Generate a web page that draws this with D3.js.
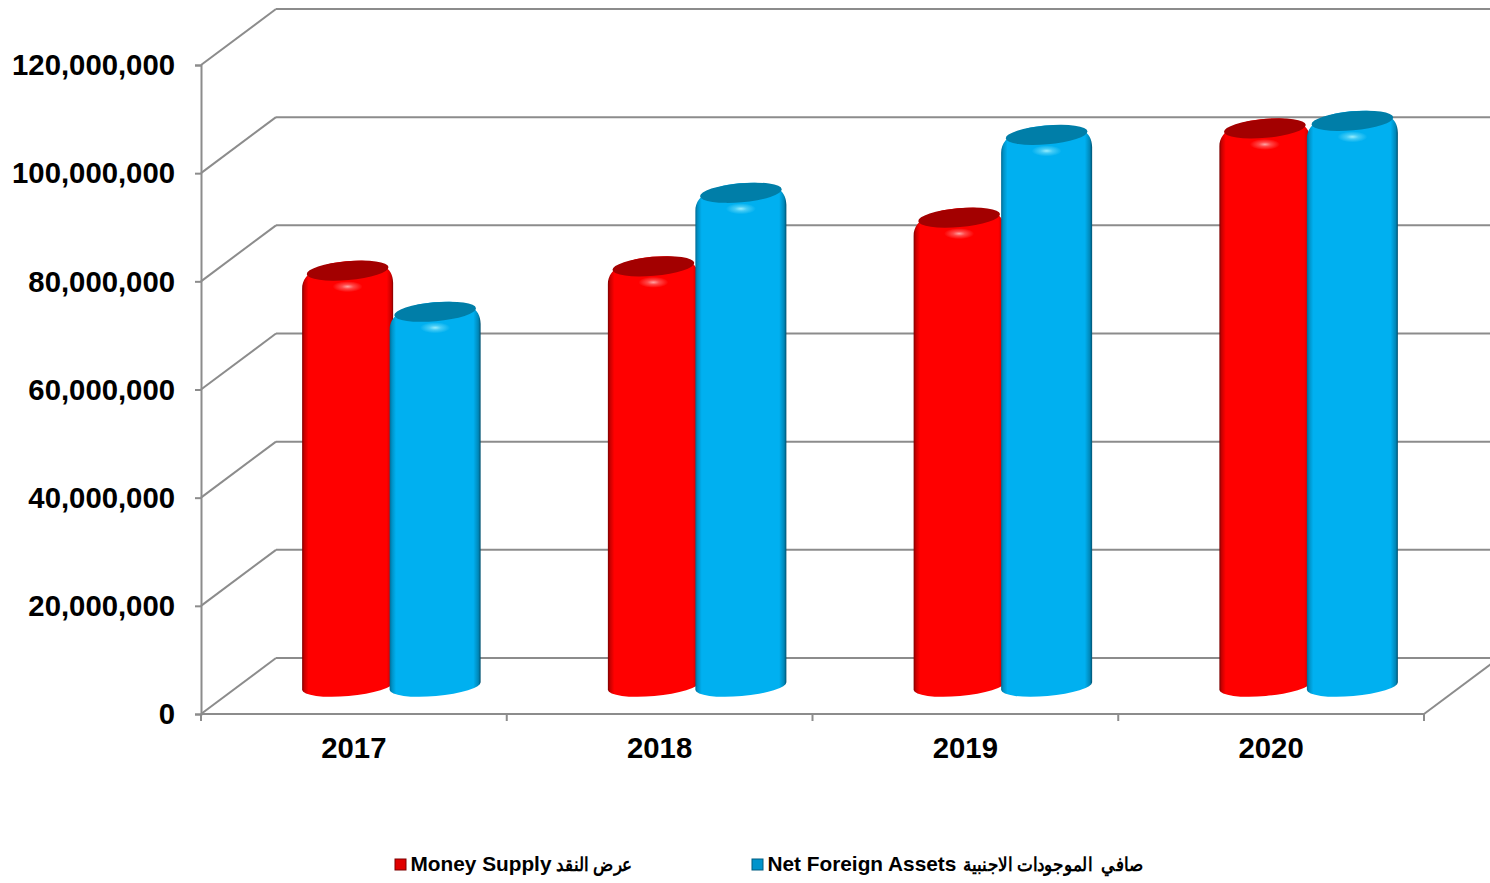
<!DOCTYPE html>
<html><head><meta charset="utf-8">
<script src="https://cdn.jsdelivr.net/npm/d3@7/dist/d3.min.js"></script>
<style>html,body{margin:0;padding:0;background:#fff;overflow:hidden}svg{display:block}</style>
</head><body><svg id="c" width="1490" height="883"></svg>
<script>
const categories = ["2017","2018","2019","2020"];
const seriesNames = ["Money Supply","Net Foreign Assets"];
const seriesArabic = ["عرض النقد","صافي  الموجودات الاجنبية"];
const moneySupply = [76800000,77600000,86600000,103100000];
const netForeignAssets = [69200000,91200000,101900000,104500000];
const yTicks = [0,20000000,40000000,60000000,80000000,100000000,120000000];

const svg = d3.select("#c");
const FONT = "'Liberation Sans',Arial,sans-serif";
const GRID = "#8c8c8c";
const depth = {dx:75, dy:-56};
const x = d3.scaleBand().domain(categories).range([201,1424]);
const inner = d3.scaleBand().domain(seriesNames).range([-87.5,87.5]);
const y = d3.scaleLinear().domain([0,120000000]).range([714,65]);

const defs = svg.append("defs");
function hGrad(id, stops){
  const g = defs.append("linearGradient").attr("id",id).attr("x1",0).attr("x2",1).attr("y1",0).attr("y2",0);
  stops.forEach(s=>g.append("stop").attr("offset",s[0]).attr("stop-color",s[1]));
}
hGrad("g0",[[0,"#7d0000"],[0.025,"#c80000"],[0.07,"#ff0000"],[0.93,"#ff0000"],[0.98,"#c80000"],[1,"#7d0000"]]);
hGrad("g1",[[0,"#006a94"],[0.025,"#0090c4"],[0.07,"#00b0f0"],[0.92,"#00b0f0"],[0.975,"#0087b8"],[1,"#00506f"]]);
function rGrad(id,c){
  const g = defs.append("radialGradient").attr("id",id);
  g.append("stop").attr("offset",0).attr("stop-color",c).attr("stop-opacity",0.9);
  g.append("stop").attr("offset",0.4).attr("stop-color",c).attr("stop-opacity",0.4);
  g.append("stop").attr("offset",1).attr("stop-color",c).attr("stop-opacity",0);
}
rGrad("h0","#ffb4b4"); rGrad("h1","#a8f4ff");

// walls and floor
const grid = svg.append("g").attr("stroke",GRID).attr("stroke-width",2).attr("fill","none");
yTicks.forEach(t=>{
  grid.append("line").attr("x1",x.range()[0]).attr("y1",y(t)).attr("x2",x.range()[0]+depth.dx).attr("y2",y(t)+depth.dy);
  grid.append("line").attr("x1",x.range()[0]+depth.dx).attr("y1",y(t)+depth.dy).attr("x2",x.range()[1]+depth.dx).attr("y2",y(t)+depth.dy);
});
grid.append("line").attr("x1",x.range()[1]).attr("y1",y(0)).attr("x2",x.range()[1]+depth.dx).attr("y2",y(0)+depth.dy);

// axes
const yAxis = d3.axisLeft(y).tickValues(yTicks).tickFormat(d3.format(",")).tickSize(6).tickPadding(20);
const gy = svg.append("g").attr("transform",`translate(${x.range()[0]},0)`).call(yAxis);
const xAxis = d3.axisBottom(x).tickSize(0).tickPadding(23);
const gx = svg.append("g").attr("transform",`translate(0,${y(0)})`).call(xAxis);
[gx,gy].forEach(g=>{
  g.selectAll(".domain").attr("stroke",GRID).attr("stroke-width",2);
  g.selectAll("line").attr("stroke",GRID).attr("stroke-width",2);
  g.selectAll("text").attr("font-family",FONT).attr("font-weight","bold").attr("font-size",29.3).attr("fill","#000");
});
gy.selectAll("text").attr("dy","0.33em");
gx.selectAll(".domain").attr("d",`M${x.range()[0]},0H${x.range()[1]}`);
gx.selectAll("text").attr("dy","0.71em");
const edges = categories.map(c=>x(c)).concat(x.range()[1]);
gx.selectAll("line.edge").data(edges).enter().append("line").attr("class","edge")
  .attr("x1",d=>d).attr("x2",d=>d).attr("y1",0).attr("y2",7).attr("stroke",GRID).attr("stroke-width",2);

// cylinders
const r = 45.5, tilt = 5;
function body(cx,yb,yt){
  const L=cx-r,R=cx+r;
  return `M${L},${yb+4}A${r},10 ${-tilt} 0 0 ${R},${yb-4}L${R},${yt+12}`+
    `C${R},${yt-4} ${cx+32},${yt-10} ${cx+10},${yt-10}`+
    `C${cx-24},${yt-10} ${L},${yt+1} ${L},${yt+18}Z`;
}
const series = [moneySupply,netForeignAssets];
const topCol = ["#a30000","#007ea8"];
const bars = svg.append("g");
series.forEach((vals,s)=>{
  const g = bars.append("g");
  vals.forEach((v,i)=>{
    const cx = x(categories[i]) + x.bandwidth()/2 + depth.dx/2 + inner(seriesNames[s]) + inner.bandwidth()/2;
    const yb = y(0) + depth.dy/2;
    const yt = y(v) + depth.dy/2;
    g.append("path").attr("d",body(cx,yb,yt)).attr("fill",`url(#g${s})`);
    g.append("ellipse").attr("cx",cx).attr("cy",yt).attr("rx",41).attr("ry",9.5)
      .attr("transform",`rotate(${-tilt} ${cx} ${yt})`).attr("fill",topCol[s]);
    g.append("ellipse").attr("cx",cx).attr("cy",yt+16).attr("rx",15).attr("ry",5.5).attr("fill",`url(#h${s})`);
  });
});

// legend
const legX = [395,752];
const arabicX = [556,963], arabicW = [76,180];
const swatch = ["#e00000","#0094cc"], swatchEdge=["#7d0000","#005c80"];
const leg = svg.append("g");
seriesNames.forEach((n,i)=>{
  leg.append("rect").attr("x",legX[i]).attr("y",859).attr("width",11).attr("height",11)
    .attr("fill",swatch[i]).attr("stroke",swatchEdge[i]).attr("stroke-width",1);
  leg.append("text").attr("x",legX[i]+15.5).attr("y",871).attr("font-family",FONT)
    .attr("font-weight","bold").attr("font-size",20.8).attr("fill","#000").text(n);
  leg.append("text").attr("x",arabicX[i]).attr("y",871).attr("font-family",FONT)
    .attr("font-weight","bold").attr("font-size",19).attr("fill","#000").attr("xml:space","preserve")
    .attr("textLength",arabicW[i]).attr("lengthAdjust","spacingAndGlyphs").text(seriesArabic[i]);
});
</script></body></html>
